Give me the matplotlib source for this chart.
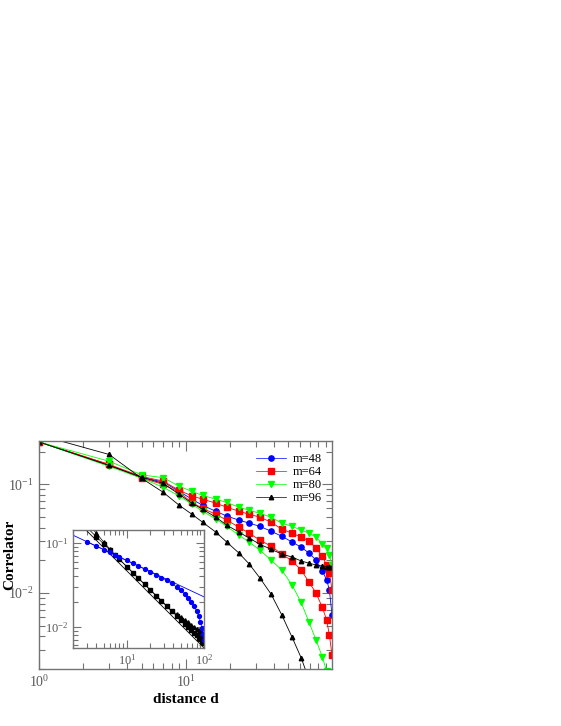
import numpy as np
import matplotlib
matplotlib.use("Agg")
import matplotlib.pyplot as plt

plt.rcParams['font.family'] = ['Liberation Serif', 'DejaVu Serif']
plt.rcParams['mathtext.fontset'] = 'stix'

# main panel: distance grid and correlator values
d_main = [1, 3, 5, 7, 9, 11, 13, 16, 19, 23, 27, 32, 38, 45, 53, 61, 69, 77, 85, 91, 95, 99]
blue_m48 = [0.245, 0.149, 0.116, 0.105, 0.086, 0.073, 0.064, 0.0565, 0.051, 0.0468, 0.0439,
            0.041, 0.037, 0.0333, 0.0294, 0.0264, 0.0233, 0.0201, 0.016, 0.0132, 0.0107, 0.0063]
red_m64_up = [0.245, 0.152, 0.118, 0.107, 0.088, 0.078, 0.073, 0.067, 0.0615, 0.0565, 0.053,
              0.0498, 0.0448, 0.0387, 0.0355, 0.0327, 0.030, 0.026, 0.0218, 0.0181, 0.0153, 0.0107]
red_m64_lo = [0.245, 0.152, 0.1135, 0.100, 0.0845, 0.068, 0.060, 0.053, 0.0468, 0.0403, 0.0355,
              0.0306, 0.027, 0.0228, 0.0197, 0.0163, 0.0126, 0.0100, 0.0074, 0.00565, 0.0041, 0.0027]
green_m80_up = [0.245, 0.163, 0.122, 0.115, 0.096, 0.086, 0.079, 0.073, 0.068, 0.0615, 0.0577,
                0.054, 0.0498, 0.0439, 0.041, 0.0379, 0.0355, 0.0327, 0.0285, 0.026, 0.0223, 0.0181]
green_m80_lo = [0.245, 0.146, 0.1135, 0.094, 0.078, 0.0655, 0.0565, 0.048, 0.041, 0.034, 0.0294,
                0.0248, 0.0201, 0.0163, 0.0118, 0.0082, 0.0054, 0.0037, 0.0026, 0.0019, 0.0015, 0.0011]
black_m96_flat = [0.245, 0.149, 0.116, 0.102, 0.081, 0.067, 0.059, 0.0498, 0.0421, 0.0363, 0.032,
                  0.028, 0.0253, 0.0228, 0.0214, 0.0197, 0.0188, 0.0181, 0.0177, 0.0173, 0.0173, 0.0173]
d_steep = [1, 3, 5, 7, 9, 11, 13, 16, 19, 23, 27, 32, 38, 45, 53, 61, 69]
black_m96_steep = [0.284, 0.188, 0.1135, 0.0845, 0.0642, 0.053, 0.0448, 0.0363, 0.0294, 0.0233,
                   0.0185, 0.0137, 0.0098, 0.0063, 0.0039, 0.00254, 0.0016]

# inset
d_ins = [3, 4, 5, 6, 7, 8, 10, 12, 14, 17, 20, 24, 28, 33, 38, 44, 50, 56, 62, 68, 74, 80, 85, 90, 94, 97, 100]
ins_blue = [0.1042, 0.0921, 0.0837, 0.0773, 0.0722, 0.0681, 0.0619, 0.0572, 0.0534, 0.0490, 0.0456,
            0.0420, 0.0388, 0.0358, 0.0330, 0.0300, 0.0272, 0.0247, 0.0221, 0.0198, 0.0178, 0.0155,
            0.0135, 0.0115, 0.0097, 0.0083, 0.0070]
ins_black1 = [0.155, 0.119, 0.0976, 0.0828, 0.0718, 0.0638, 0.0521, 0.0441, 0.0383, 0.0321, 0.0277,
              0.0235, 0.0205, 0.0176, 0.0155, 0.0136, 0.0121, 0.0109, 0.00995, 0.00916, 0.00849,
              0.00790, 0.00746, 0.00708, 0.00681, 0.00662, 0.00645]
ins_black2 = [0.178, 0.1315, 0.1028, 0.0848, 0.0720, 0.0638, 0.0521, 0.0441, 0.0383, 0.0321, 0.0277,
              0.0235, 0.0205, 0.0176, 0.0155, 0.01428, 0.0132, 0.0121, 0.0113, 0.0106, 0.0100,
              0.0095, 0.0091, 0.0087, 0.0085, 0.0083, 0.0080]
fit_d = [2, 100]
fit_blue = [0.124, 0.0228]
fit_black = [0.204, 0.0056]

gray = '0.45'
fig = plt.figure(figsize=(5.61, 7.26), dpi=100)
ax = fig.add_axes([39/561, 57/726, 293/561, 228/726])

ms = 3.8
lw = 0.6
ax.plot(d_main, blue_m48, '-o', color='blue', lw=lw, ms=ms, mec='blue', label='m=48')
ax.plot(d_main, red_m64_up, '-s', color='red', lw=lw, ms=ms, label='m=64')
ax.plot(d_main, red_m64_lo, '-s', color='red', lw=lw, ms=ms)
ax.plot(d_main, green_m80_up, '-v', color='#00ff00', lw=lw, ms=ms, label='m=80')
ax.plot(d_main, green_m80_lo, '-v', color='#00ff00', lw=lw, ms=ms)
ax.plot(d_steep, black_m96_steep, '-^', color='black', lw=lw, ms=ms - 0.6, label='m=96')
ax.plot(d_main, black_m96_flat, '-^', color='black', lw=lw, ms=ms - 0.6)

ax.set_xscale('log')
ax.set_yscale('log')
ax.set_xlim(1, 99)
ax.set_ylim(0.002, 0.25)
ax.set_xlabel('distance d', fontweight='bold', fontsize=11, labelpad=2)
ax.set_ylabel('Correlator', fontweight='bold', fontsize=11)
ax.yaxis.set_label_coords(-0.078, 0.5)

ax.tick_params(which='both', direction='in', top=True, right=True, colors=gray,
               labelcolor='0.35', labelsize=10)
ax.tick_params(which='major', length=7, width=0.8)
ax.tick_params(which='minor', length=4, width=0.8)
for s in ax.spines.values():
    s.set_color(gray)
    s.set_linewidth(1.0)

leg = ax.legend(loc='upper right', bbox_to_anchor=(1.005, 0.995), frameon=False, numpoints=1,
                fontsize=9, handlelength=2.4, labelspacing=0.08, handletextpad=0.6)
for h in leg.get_lines():
    h.set_linewidth(0.5)

# inset
axi = fig.add_axes([73/561, 78/726, 131/561, 118/726])
axi.plot(fit_d, fit_blue, '-', color='blue', lw=0.6)
axi.plot(fit_d, fit_black, '-', color='black', lw=0.6)
axi.plot(d_ins, ins_black2, '-^', color='black', lw=0.5, ms=2.6)
axi.plot(d_ins, ins_black1, '-s', color='black', lw=0.5, ms=2.4)
axi.plot(d_ins, ins_blue, '-o', color='blue', lw=0.5, ms=2.8)
axi.set_xscale('log')
axi.set_yscale('log')
axi.set_xlim(2, 100)
axi.set_ylim(0.0056, 0.143)
axi.tick_params(which='both', direction='in', top=True, right=True, colors=gray,
                labelcolor='0.35', labelsize=9)
axi.tick_params(which='major', length=6, width=0.8)
axi.tick_params(which='minor', length=3.5, width=0.8)
for s in axi.spines.values():
    s.set_color(gray)
    s.set_linewidth(1.0)

fig.savefig('out.png', dpi=100)
